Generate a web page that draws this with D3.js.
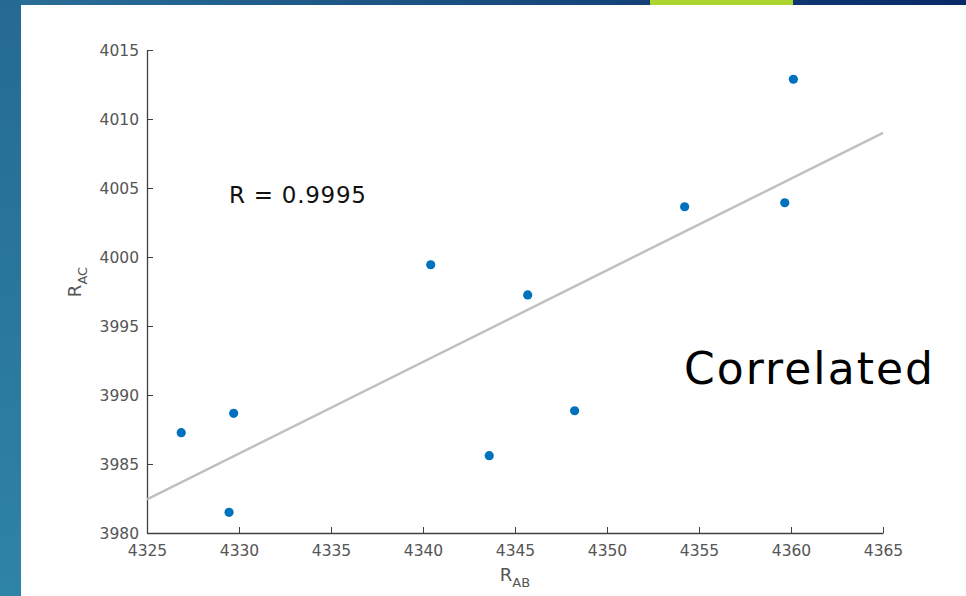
<!DOCTYPE html>
<html>
<head>
<meta charset="utf-8">
<script src="https://cdn.jsdelivr.net/npm/d3@7"></script>
<style>
  body { margin: 0; background: #fff; overflow: hidden; }
  svg text { font-family: "DejaVu Sans", "Liberation Sans", sans-serif; }
</style>
</head>
<body>
<svg id="chart" width="966" height="596"></svg>
<script>
// data
const rAB = [4326.86, 4329.71, 4329.46, 4340.42, 4345.69, 4343.60, 4348.24, 4354.22, 4359.66, 4360.13];
const rAC = [3987.27, 3988.67, 3981.50, 3999.44, 3997.25, 3985.60, 3988.86, 4003.64, 4003.93, 4012.88];
const fitX = [4325, 4365];
const fitY = [3982.44, 4009.0];
const xTicks = [4325, 4330, 4335, 4340, 4345, 4350, 4355, 4360, 4365];
const yTicks = [3980, 3985, 3990, 3995, 4000, 4005, 4010, 4015];

const svg = d3.select("#chart");

// slide decoration
const defs = svg.append("defs");
const topGrad = defs.append("linearGradient").attr("id", "topGrad");
topGrad.append("stop").attr("offset", "0%").attr("stop-color", "#2a7099");
topGrad.append("stop").attr("offset", "100%").attr("stop-color", "#082a66");
const sideGrad = defs.append("linearGradient").attr("id", "sideGrad")
    .attr("x1", 0).attr("y1", 0).attr("x2", 0).attr("y2", 1);
sideGrad.append("stop").attr("offset", "0%").attr("stop-color", "#256a92");
sideGrad.append("stop").attr("offset", "100%").attr("stop-color", "#2e84a6");

svg.append("rect").attr("x", 0).attr("y", 0).attr("width", 966).attr("height", 5).attr("fill", "url(#topGrad)");
svg.append("rect").attr("x", 650).attr("y", 0).attr("width", 143).attr("height", 5).attr("fill", "#acd530");
svg.append("rect").attr("x", 0).attr("y", 0).attr("width", 21).attr("height", 596).attr("fill", "url(#sideGrad)");

// scales
const x = d3.scaleLinear().domain([4325, 4365]).range([147, 883]);
const y = d3.scaleLinear().domain([3980, 4015]).range([533, 50]);

const axisColor = "#404040";
const tickText = "#555";

// x axis (ticks inward, MATLAB style)
const gx = svg.append("g")
    .attr("transform", "translate(0,533)")
    .call(d3.axisBottom(x).tickValues(xTicks).tickSizeInner(-6).tickSizeOuter(0).tickPadding(12).tickFormat(d3.format("d")));
gx.select(".domain").attr("stroke", axisColor).attr("stroke-width", 1.3);
gx.selectAll(".tick line").attr("stroke", axisColor);
gx.selectAll("text").attr("fill", tickText).attr("font-size", 15.5);

const gy = svg.append("g")
    .attr("transform", "translate(147,0)")
    .call(d3.axisLeft(y).tickValues(yTicks).tickSizeInner(-6).tickSizeOuter(0).tickPadding(8).tickFormat(d3.format("d")));
gy.select(".domain").attr("stroke", axisColor).attr("stroke-width", 1.3);
gy.selectAll(".tick line").attr("stroke", axisColor);
gy.selectAll("text").attr("fill", tickText).attr("font-size", 15.5).attr("dy", "0.35em");

// fit line
svg.append("line")
    .attr("x1", x(fitX[0])).attr("y1", y(fitY[0]))
    .attr("x2", x(fitX[1])).attr("y2", y(fitY[1]))
    .attr("stroke", "#c0c0c0")
    .attr("stroke-width", 2.5);

// points
svg.selectAll(".pt")
    .data(rAB.map((d, i) => ({ x: d, y: rAC[i] })))
    .enter()
    .append("circle")
    .attr("class", "pt")
    .attr("cx", d => x(d.x))
    .attr("cy", d => y(d.y))
    .attr("r", 4.6)
    .attr("fill", "#0072bd");

// axis labels
const xl = svg.append("text").attr("x", 515).attr("y", 581).attr("text-anchor", "middle")
    .attr("fill", tickText).attr("font-size", 18);
xl.append("tspan").text("R");
xl.append("tspan").attr("font-size", 13).attr("dy", 6).text("AB");

const yl = svg.append("text").attr("transform", "translate(81,282) rotate(-90)").attr("text-anchor", "middle")
    .attr("fill", tickText).attr("font-size", 18);
yl.append("tspan").text("R");
yl.append("tspan").attr("font-size", 13).attr("dy", 6).text("AC");

// annotations
svg.append("text").attr("x", 229).attr("y", 203).attr("font-size", 23).attr("fill", "#111")
    .attr("textLength", 137).attr("lengthAdjust", "spacing").text("R = 0.9995");
svg.append("text").attr("x", 684).attr("y", 384).attr("font-size", 44).attr("fill", "#000")
    .attr("textLength", 249).attr("lengthAdjust", "spacing").text("Correlated");
</script>
</body>
</html>
